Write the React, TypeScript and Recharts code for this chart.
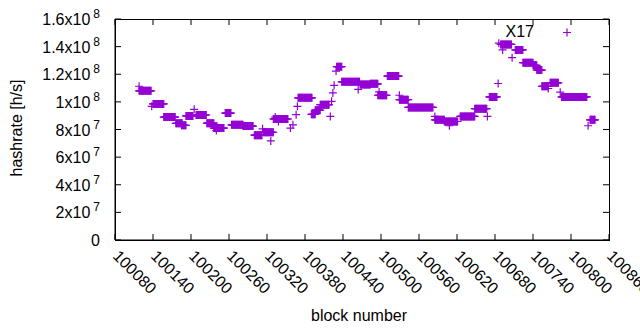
import React from 'react';
import { ScatterChart, Scatter, XAxis, YAxis } from 'recharts';

// runs of blocks that share one hashrate value (units of 1e7 h/s)
const runStart = [
  100118, 100118, 100138, 100140, 100157, 100176, 100185, 100192, 100205, 100208,
  100225, 100236, 100240, 100254, 100264, 100282, 100300, 100313, 100314, 100326,
  100333, 100330, 100338, 100357, 100361, 100366, 100368, 100369, 100390, 100396,
  100404, 100420, 100422, 100424, 100426, 100429, 100430, 100438, 100464, 100467,
  100483, 100497, 100495, 100510, 100529, 100529, 100543, 100585, 100585, 100600,
  100608, 100625, 100648, 100668, 100671, 100685, 100686, 100689, 100692, 100707,
  100712, 100724, 100740, 100746, 100754, 100764, 100767, 100783, 100785, 100827,
  100830,
];
const runEnd = [
  100118, 100137, 100138, 100157, 100175, 100186, 100192, 100203, 100205, 100224,
  100236, 100252, 100240, 100263, 100282, 100298, 100312, 100313, 100330, 100326,
  100333, 100353, 100338, 100357, 100361, 100366, 100368, 100391, 100396, 100404,
  100418, 100420, 100422, 100424, 100426, 100429, 100438, 100466, 100464, 100483,
  100495, 100497, 100509, 100528, 100529, 100543, 100582, 100585, 100600, 100621,
  100608, 100648, 100667, 100668, 100683, 100685, 100686, 100706, 100692, 100707,
  100724, 100740, 100746, 100754, 100764, 100764, 100780, 100783, 100825, 100827,
  100838,
];
const runValue = [
  11.13, 10.8, 9.68, 9.85, 8.9, 8.45, 8.3, 8.98, 9.46, 9.05,
  8.46, 8.1, 7.92, 9.19, 8.34, 8.25, 7.59, 8.05, 7.8, 7.17,
  8.9, 8.76, 8.58, 8.1, 8.34, 9.07, 9.68, 10.29, 9.1, 9.4,
  9.8, 8.95, 10.04, 10.65, 11.2, 12.23, 12.55, 11.45, 10.9, 11.26,
  11.31, 10.72, 10.48, 11.87, 10.48, 10.16, 9.6, 8.95, 8.7, 8.58,
  8.27, 8.95, 9.51, 8.95, 10.36, 11.33, 14.25, 14.16, 13.76, 13.2,
  13.76, 12.84, 12.65, 12.3, 11.13, 10.97, 11.38, 10.7, 10.36, 8.27,
  8.7,
];

const xTicks = [100080, 100140, 100200, 100260, 100320, 100380, 100440, 100500, 100560, 100620, 100680, 100740, 100800, 100860];
const yTicks = [0, 2e7, 4e7, 6e7, 8e7, 1e8, 1.2e8, 1.4e8, 1.6e8];
const xDomain = [100080, 100860];
const yDomain = [0, 1.6e8];
const seriesName = 'X17';

const points: { block: number; hashrate: number }[] = [];
runStart.forEach((s, i) => {
  for (let b = s; b <= runEnd[i]; b++) points.push({ block: b, hashrate: runValue[i] * 1e7 });
});

const PURPLE = '#9400d3';
const FONT = '"Liberation Sans", Arial, sans-serif';
const FS = 16;
const W = 640;
const H = 330;
const M = { top: 19, right: 31, bottom: 0, left: 0 };
const YW = 115;
const XH = 90;
const PW = W - M.left - M.right - YW;
const PH = H - M.top - M.bottom - XH;

const Cross = ({ cx, cy }: any) => (
  <path d={`M${cx - 4},${cy}h8M${cx},${cy - 4}v8`} stroke={PURPLE} strokeWidth={1.2} fill="none" />
);

const XTick = ({ x, y, payload }: any) => (
  <g>
    <path d={`M${x},${y}v-6M${x},${y - PH}v6`} stroke="#000" strokeWidth={1} fill="none" />
    <text transform={`translate(${x - 3},${y + 17}) rotate(45)`} fontSize={FS} fontFamily={FONT} fill="#000">
      {payload.value}
    </text>
  </g>
);

const YTick = ({ x, y, payload }: any) => {
  const v = payload.value as number;
  let content: React.ReactNode = '0';
  if (v !== 0) {
    const e = Math.floor(Math.log10(v) + 1e-9);
    const m = +(v / Math.pow(10, e)).toFixed(2);
    content = (
      <>
        <tspan>{`${m}x10`}</tspan>
        <tspan dx={3} dy={-7} fontSize={12}>{e}</tspan>
      </>
    );
  }
  return (
    <g>
      <path d={`M${x},${y}h6M${x + PW},${y}h-6`} stroke="#000" strokeWidth={1} fill="none" />
      <text x={x - 15} y={y + 6} textAnchor="end" fontSize={FS} fontFamily={FONT} fill="#000">
        {content}
      </text>
    </g>
  );
};

export default function App() {
  return (
    <div style={{ position: 'absolute', left: 0, top: 0, width: W, height: H, background: '#fff', fontFamily: FONT }}>
      <ScatterChart width={W} height={H} margin={M}>
        <XAxis
          dataKey="block"
          type="number"
          domain={xDomain}
          ticks={xTicks}
          allowDataOverflow
          height={XH}
          tickSize={0}
          tickMargin={0}
          tickLine={false}
          axisLine={{ stroke: '#000' }}
          tick={<XTick />}
          interval={0}
        />
        <YAxis
          dataKey="hashrate"
          type="number"
          domain={yDomain}
          ticks={yTicks}
          width={YW}
          tickSize={0}
          tickMargin={0}
          tickLine={false}
          axisLine={{ stroke: '#000' }}
          tick={<YTick />}
          interval={0}
        />
        <Scatter data={points} shape={<Cross />} isAnimationActive={false} name={seriesName} />
      </ScatterChart>
      {/* plot frame */}
      <div
        style={{
          position: 'absolute',
          left: M.left + YW,
          top: M.top,
          width: PW + 1,
          height: PH + 1,
          border: '1px solid #000',
          boxSizing: 'border-box',
          pointerEvents: 'none',
        }}
      />
      <div style={{ position: 'absolute', left: 359, top: 306, transform: 'translateX(-50%)', fontSize: FS, whiteSpace: 'nowrap', lineHeight: '20px' }}>
        block number
      </div>
      <div style={{ position: 'absolute', left: 17, top: 128, transform: 'translate(-50%,-50%) rotate(-90deg)', fontSize: FS, whiteSpace: 'nowrap' }}>
        hashrate [h/s]
      </div>
      <div style={{ position: 'absolute', right: W - 534, top: 22, fontSize: FS, whiteSpace: 'nowrap', lineHeight: '20px' }}>
        {seriesName}
      </div>
      <svg style={{ position: 'absolute', left: 560, top: 25 }} width={15} height={15}>
        <path d="M3,7.5h8M7,3.5v8" stroke={PURPLE} strokeWidth={1.2} fill="none" />
      </svg>
    </div>
  );
}
